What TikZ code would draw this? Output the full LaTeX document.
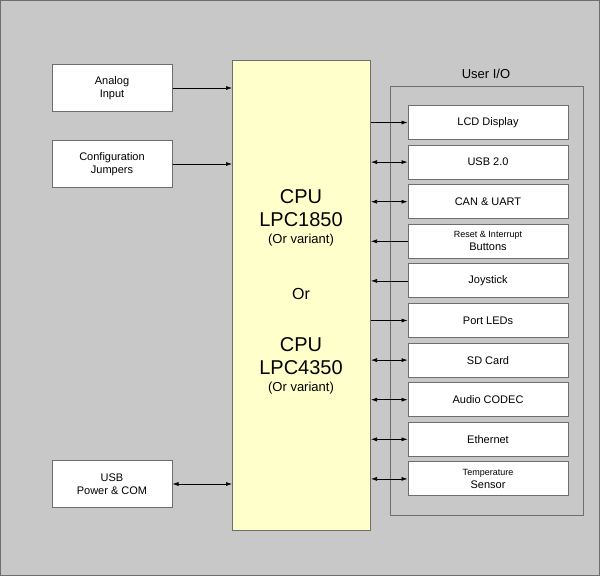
\documentclass[tikz,border=0pt]{standalone}
\usepackage{fontspec}
\setmainfont{Liberation Sans}
\usetikzlibrary{arrows.meta, positioning}
\definecolor{bggray}{RGB}{200,200,200}
\definecolor{cpuyellow}{RGB}{255,255,204}
\definecolor{edgegray}{RGB}{110,110,110}
\newcommand{\cpufont}{\fontsize{20}{23}\selectfont}
\newcommand{\varfont}{\fontsize{13}{15}\selectfont}
\tikzset{
  blk/.style={draw=edgegray, fill=white, line width=1pt, minimum width=160pt, minimum height=34pt, align=center, font=\fontsize{11}{13}\selectfont},
  lblk/.style={blk, minimum width=120pt, minimum height=47pt},
  con/.style={line width=0.6pt, -{Latex[length=6pt,width=4pt]}},
  rcon/.style={line width=0.6pt, {Latex[length=6pt,width=4pt]}-},
  bicon/.style={line width=0.6pt, {Latex[length=6pt,width=4pt]}-{Latex[length=6pt,width=4pt]}}
}
\begin{document}
\begin{tikzpicture}[x=1pt, y=-1pt]
  \useasboundingbox (0,0) rectangle (600,576);
  \draw[fill=bggray, draw=edgegray] (0.5,0.5) rectangle (599.5,575.5);
  % user I/O frame
  \draw[draw=edgegray, line width=1pt] (390,86) rectangle (583,515);
  \node[font=\varfont] (uio) at (486,74) {User I/O};
  % cpu
  \node[draw=edgegray, fill=cpuyellow, line width=1pt, minimum width=138pt, minimum height=470pt, anchor=north west] (cpu) at (232,60) {};
  \node[align=center, font=\cpufont] (cpu1) at (301,208) {CPU\\LPC1850};
  \node[font=\varfont, below=0pt of cpu1] (var1) {(Or variant)};
  \node[font=\fontsize{16}{18}\selectfont] (or) at (301,294) {Or};
  \node[align=center, font=\cpufont] (cpu2) at (301,356) {CPU\\LPC4350};
  \node[font=\varfont, below=0pt of cpu2] (var2) {(Or variant)};
  % left side
  \node[lblk] (analog) at (112,88) {Analog\\Input};
  \node[lblk] (config) at (112,164) {Configuration\\Jumpers};
  \node[lblk] (usbpwr) at (112,484) {USB\\Power \& COM};
  \draw[con] (analog.east) -- (analog.east -| cpu.west);
  \draw[con] (config.east) -- (config.east -| cpu.west);
  \draw[bicon] (usbpwr.east) -- (usbpwr.east -| cpu.west);
  % right side
  \foreach \name/\txt/\sty [count=\i] in {
      lcd/LCD Display/con,
      usb/USB 2.0/bicon,
      can/CAN \& UART/bicon,
      rst/{\fontsize{9}{12}\selectfont Reset \& Interrupt\\Buttons}/rcon,
      joy/Joystick/rcon,
      led/Port LEDs/con,
      sd/SD Card/bicon,
      audio/Audio CODEC/bicon,
      eth/Ethernet/bicon,
      temp/{\fontsize{9}{12}\selectfont Temperature\\Sensor}/bicon} {
    \node[blk] (\name) at (488,{122.5+39.6*(\i-1)}) {\txt};
    \draw[\sty] (\name.west -| cpu.east) -- (\name.west);
  }
\end{tikzpicture}
\end{document}
